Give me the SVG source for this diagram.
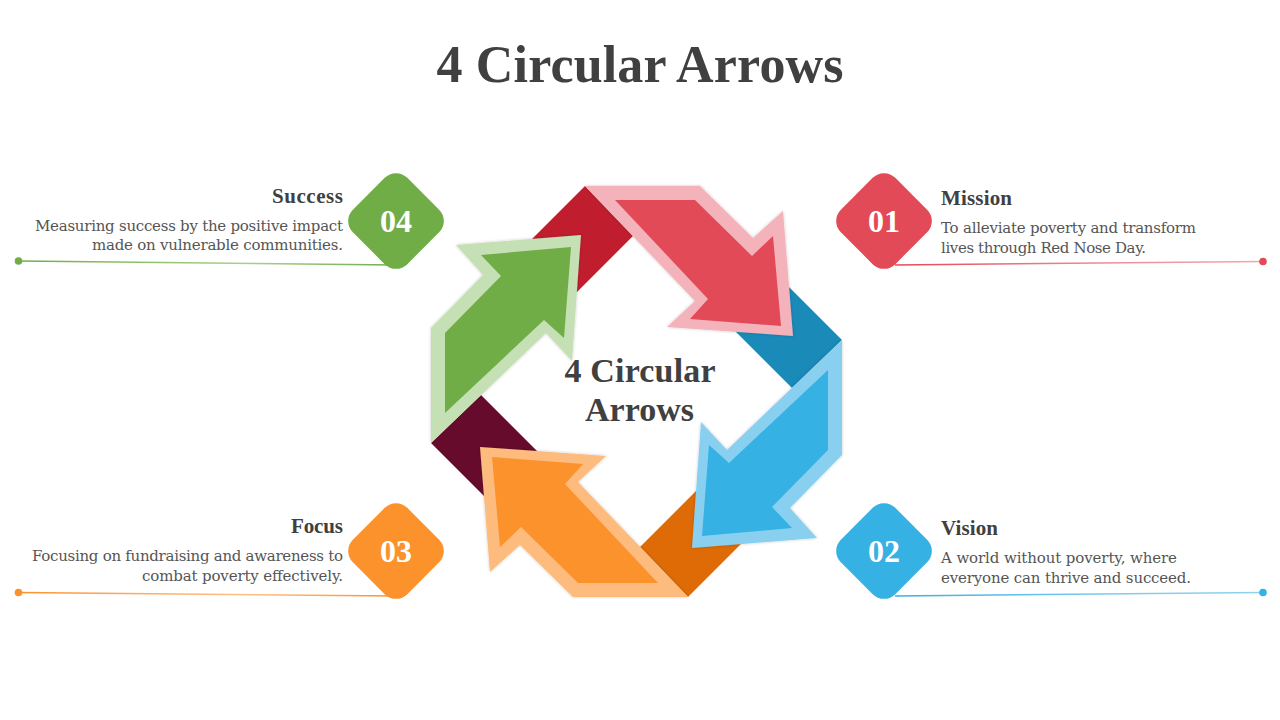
<svg xmlns="http://www.w3.org/2000/svg" width="1280" height="720" viewBox="0 0 1280 720">
  <defs>
    <style>
      .title { font-family: "Liberation Serif", "Times New Roman", serif; font-weight: bold; fill: #404040; }
      .head { font-family: "Liberation Serif", "Times New Roman", serif; font-weight: bold; font-size: 21px; fill: #404040; }
      .body { font-family: "DejaVu Serif", "Liberation Serif", serif; font-size: 15px; fill: #555555; }
      .num { font-family: "Liberation Serif", "Times New Roman", serif; font-weight: bold; font-size: 32px; fill: #ffffff; text-anchor: middle; }
      .ln { fill: none; stroke-width: 1.5; }
    </style>
    <filter id="sh" x="-10%" y="-10%" width="120%" height="120%">
      <feDropShadow dx="0" dy="0" stdDeviation="1.6" flood-color="#000" flood-opacity="0.22"/>
    </filter>
    <linearGradient id="gRed" x1="0" y1="0" x2="1" y2="0">
      <stop offset="0" stop-color="#E24A58"/>
      <stop offset="0.6" stop-color="#EE8F98"/>
      <stop offset="1" stop-color="#F2A5AD"/>
    </linearGradient>
    <linearGradient id="gBlue" x1="0" y1="0" x2="1" y2="0">
      <stop offset="0" stop-color="#35B1E3"/>
      <stop offset="0.6" stop-color="#7FCBEE"/>
      <stop offset="1" stop-color="#8FD2F0"/>
    </linearGradient>
    <linearGradient id="gGreen" x1="0" y1="0" x2="1" y2="0">
      <stop offset="0" stop-color="#70AD47"/>
      <stop offset="0.6" stop-color="#A8D08C"/>
      <stop offset="1" stop-color="#70AD47"/>
    </linearGradient>
    <linearGradient id="gOrange" x1="0" y1="0" x2="1" y2="0">
      <stop offset="0" stop-color="#FC922C"/>
      <stop offset="0.6" stop-color="#FDC08A"/>
      <stop offset="1" stop-color="#FC922C"/>
    </linearGradient>
    <polygon id="band" points="585,186 633,236 563,306 515,256"/>
    <polygon id="outer" points="585,186 700,186 753,238 783,211 793,336 667,327 695,301"/>
    <polygon id="inner" points="615,200 695,200 752,256 773,236 781,326 690,319 708,299"/>
  </defs>

  <rect width="1280" height="720" fill="#ffffff"/>

  <text id="title" class="title" x="640" y="82" font-size="52" text-anchor="middle" textLength="407">4 Circular Arrows</text>

  <g id="cycle">
    <g id="bands">
      <use href="#band" fill="#C01E2E"/>
      <use href="#band" fill="#1A8AB8" transform="rotate(90 636.5 391.5)"/>
      <use href="#band" fill="#DE6B05" transform="rotate(180 636.5 391.5)"/>
      <use href="#band" fill="#670B2D" transform="rotate(270 636.5 391.5)"/>
    </g>
    <g id="arrow-red">
      <use href="#outer" fill="#F4B3BA" filter="url(#sh)"/>
      <use href="#inner" fill="#E24A58"/>
    </g>
    <g id="arrow-blue" transform="rotate(90 636.5 391.5)">
      <use href="#outer" fill="#89D0F0" filter="url(#sh)"/>
      <use href="#inner" fill="#35B1E3"/>
    </g>
    <g id="arrow-orange" transform="rotate(180 636.5 391.5)">
      <use href="#outer" fill="#FDBB7E" filter="url(#sh)"/>
      <use href="#inner" fill="#FC922C"/>
    </g>
    <g id="arrow-green" transform="rotate(270 636.5 391.5)">
      <use href="#outer" fill="#C4E0B4" filter="url(#sh)"/>
      <use href="#inner" fill="#70AD47"/>
    </g>
    <text class="title" font-size="34" x="640" y="382" text-anchor="middle" textLength="151">4 Circular</text>
    <text class="title" font-size="34" x="639.5" y="420.5" text-anchor="middle" textLength="109">Arrows</text>
  </g>

  <g id="connectors">
    <path class="ln" d="M895,265 L1263,261.5" stroke="url(#gRed)"/>
    <circle cx="1263" cy="261.5" r="3.8" fill="#E24A58"/>
    <path class="ln" d="M895,596 L1263,592.5" stroke="url(#gBlue)"/>
    <circle cx="1263" cy="592.5" r="3.8" fill="#35B1E3"/>
    <path class="ln" d="M18.5,261 L396,265" stroke="url(#gGreen)"/>
    <circle cx="18.5" cy="261" r="3.8" fill="#70AD47"/>
    <path class="ln" d="M18.5,592.5 L396,596" stroke="url(#gOrange)"/>
    <circle cx="18.5" cy="592.5" r="3.8" fill="#FC922C"/>
  </g>

  <g id="node-01">
    <rect x="-38.5" y="-38.5" width="77" height="77" rx="16" fill="#E24A58" transform="translate(884 221) rotate(45)"/>
    <text class="num" x="884" y="232">01</text>
    <text class="head" x="941" y="205" textLength="71">Mission</text>
    <text class="body" x="941" y="232.5" textLength="255">To alleviate poverty and transform</text>
    <text class="body" x="941" y="252.5" textLength="205">lives through Red Nose Day.</text>
  </g>

  <g id="node-02">
    <rect x="-38.5" y="-38.5" width="77" height="77" rx="16" fill="#35B1E3" transform="translate(884 551) rotate(45)"/>
    <text class="num" x="884" y="562">02</text>
    <text class="head" x="941" y="535" textLength="57">Vision</text>
    <text class="body" x="941" y="562.5" textLength="236">A world without poverty, where</text>
    <text class="body" x="941" y="582.5" textLength="250">everyone can thrive and succeed.</text>
  </g>

  <g id="node-03">
    <rect x="-38.5" y="-38.5" width="77" height="77" rx="16" fill="#FC922C" transform="translate(396 551) rotate(45)"/>
    <text class="num" x="396" y="562">03</text>
    <text class="head" x="343" y="533" text-anchor="end" textLength="52">Focus</text>
    <text class="body" x="343" y="561" text-anchor="end" textLength="311">Focusing on fundraising and awareness to</text>
    <text class="body" x="343" y="580.5" text-anchor="end" textLength="201">combat poverty effectively.</text>
  </g>

  <g id="node-04">
    <rect x="-38.5" y="-38.5" width="77" height="77" rx="16" fill="#70AD47" transform="translate(396 221) rotate(45)"/>
    <text class="num" x="396" y="232">04</text>
    <text class="head" x="343" y="202.5" text-anchor="end" textLength="71">Success</text>
    <text class="body" x="343" y="231" text-anchor="end" textLength="308">Measuring success by the positive impact</text>
    <text class="body" x="343" y="250" text-anchor="end" textLength="251">made on vulnerable communities.</text>
  </g>
</svg>
